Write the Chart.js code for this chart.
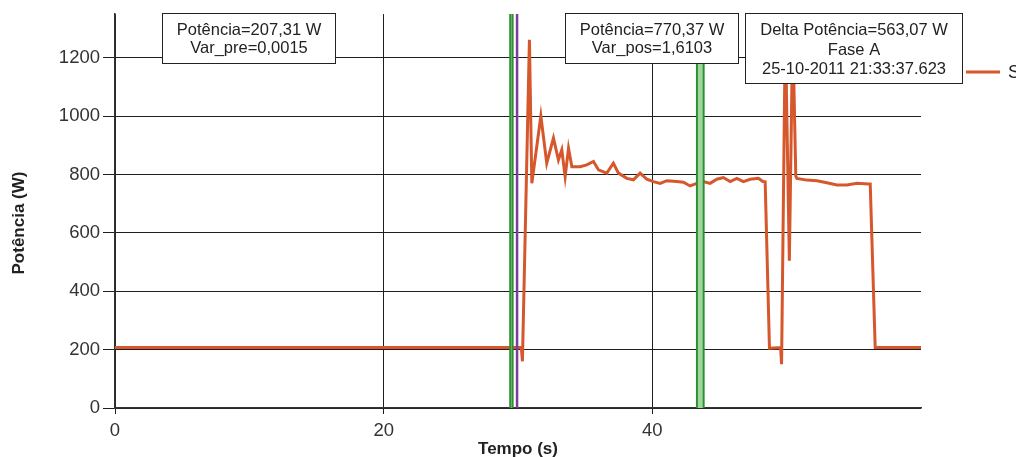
<!DOCTYPE html>
<html>
<head>
<meta charset="utf-8">
<script src="https://cdn.jsdelivr.net/npm/chart.js@4.4.0/dist/chart.umd.min.js"></script>
<style>
html, body { margin: 0; padding: 0; background: #fff; overflow: hidden; }
</style>
</head>
<body>
<canvas id="powerChart" width="1016" height="457"></canvas>
<script>
// time (s) and power (W)
const timeS = [0, 30.25, 30.33, 30.85, 31.03, 31.7, 32.14, 32.64, 33.01, 33.26,
    33.51, 33.76, 34.01, 34.62, 35.12, 35.62, 35.99, 36.61, 37.1, 37.48,
    38.1, 38.59, 39.09, 39.59, 40.08, 40.58, 41.08, 41.82, 42.32, 42.81,
    43.31, 43.8, 44.3, 44.8, 45.29, 45.79, 46.29, 46.78, 47.28, 47.9,
    48.23, 48.4, 48.72, 49.55, 49.62, 49.9, 50.2, 50.45, 50.68, 50.76,
    51.5, 52.25, 52.99, 53.74, 54.48, 55.23, 56.09, 56.22, 56.59, 60];
const powerW = [207, 207, 160, 1262, 770, 1001, 839, 925, 850, 885,
    793, 890, 827, 827, 833, 845, 816, 805, 839, 805,
    787, 782, 805, 784, 776, 770, 779, 776, 774, 761,
    770, 776, 770, 784, 790, 776, 787, 776, 784, 787,
    776, 775, 205, 207, 150, 1300, 505, 1300, 795, 787,
    781, 779, 772, 764, 764, 770, 768, 768, 207, 207];
const xTicks = [0, 20, 40];
const yTicks = [0, 200, 400, 600, 800, 1000, 1200];
// window markers (s): green pairs, purple event line
const greenMarkers = [[29.42, 29.6], [43.32, 43.82]];
const purpleMarkers = [29.93];
const seriesName = 'Série1';

const lineColor = '#d5572b';
const fontFamily = '"Liberation Sans", Arial, sans-serif';

const infoBoxes = [
    { left: 162.5, top: 13.5, width: 173, height: 50, gap: 18,
      lines: ['Potência=207,31 W', 'Var_pre=0,0015'] },
    { left: 565.5, top: 13.5, width: 173, height: 50, gap: 18,
      lines: ['Potência=770,37 W', 'Var_pos=1,6103'] },
    { left: 745.5, top: 13.5, width: 217, height: 70, gap: 19.5,
      lines: ['Delta Potência=563,07 W', 'Fase A', '25-10-2011 21:33:37.623'] }
];

const overlayPlugin = {
    id: 'overlays',
    afterDatasetsDraw(chart) {
        const { ctx, chartArea, scales: { x } } = chart;
        ctx.save();

        greenMarkers.forEach(pair => {
            const a = x.getPixelForValue(pair[0]);
            const b = x.getPixelForValue(pair[1]);
            ctx.fillStyle = '#9fd69f';
            ctx.fillRect(a, chartArea.top, b - a, chartArea.bottom - chartArea.top);
            ctx.strokeStyle = '#2f8f32';
            ctx.lineWidth = 2;
            [a, b].forEach(px => {
                ctx.beginPath();
                ctx.moveTo(px, chartArea.top);
                ctx.lineTo(px, chartArea.bottom);
                ctx.stroke();
            });
        });

        ctx.strokeStyle = '#7b3c9c';
        ctx.lineWidth = 2.5;
        purpleMarkers.forEach(v => {
            const px = x.getPixelForValue(v);
            ctx.beginPath();
            ctx.moveTo(px, chartArea.top);
            ctx.lineTo(px, chartArea.bottom);
            ctx.stroke();
        });

        // info boxes
        ctx.font = '16.5px ' + fontFamily;
        ctx.textAlign = 'center';
        ctx.textBaseline = 'middle';
        infoBoxes.forEach(box => {
            ctx.fillStyle = '#fff';
            ctx.fillRect(box.left, box.top, box.width, box.height);
            ctx.strokeStyle = '#222';
            ctx.lineWidth = 1;
            ctx.strokeRect(box.left, box.top, box.width, box.height);
            ctx.fillStyle = '#222';
            box.lines.forEach((txt, i) => {
                ctx.fillText(txt, box.left + box.width / 2, box.top + 17 + i * box.gap);
            });
        });

        // legend (cut off by the right edge, as in the original)
        ctx.strokeStyle = lineColor;
        ctx.lineWidth = 3;
        ctx.beginPath();
        ctx.moveTo(966, 72);
        ctx.lineTo(1000, 72);
        ctx.stroke();
        ctx.fillStyle = '#222';
        ctx.font = '18px ' + fontFamily;
        ctx.textAlign = 'left';
        ctx.fillText(seriesName, 1008, 73);

        // axis titles
        ctx.font = 'bold 17px ' + fontFamily;
        ctx.textAlign = 'center';
        ctx.fillText('Tempo (s)', (chartArea.left + chartArea.right) / 2, 449);
        ctx.translate(19, 223);
        ctx.rotate(-Math.PI / 2);
        ctx.fillText('Potência (W)', 0, 0);

        ctx.restore();
    }
};

const ctx = document.getElementById('powerChart');
new Chart(ctx, {
    type: 'line',
    data: {
        datasets: [{
            label: seriesName,
            data: timeS.map((t, i) => ({ x: t, y: powerW[i] })),
            borderColor: lineColor,
            borderWidth: 3,
            pointRadius: 0,
            tension: 0
        }]
    },
    options: {
        responsive: false,
        animation: false,
        layout: { padding: { top: 13, right: 95, left: 0, bottom: 0 } },
        scales: {
            x: {
                type: 'linear',
                min: 0,
                max: 60,
                afterBuildTicks: s => { s.ticks = xTicks.map(v => ({ value: v })); },
                afterFit: s => { s.height = 49; },
                grid: { color: '#1e1e1e', lineWidth: 1, tickLength: 6 },
                border: { color: '#333', width: 1.5 },
                ticks: {
                    color: '#333',
                    padding: 6,
                    maxRotation: 0,
                    font: { family: fontFamily, size: 18.5 },
                    callback: v => String(v)
                }
            },
            y: {
                min: 0,
                max: 1350,
                afterBuildTicks: s => { s.ticks = yTicks.map(v => ({ value: v })); },
                afterFit: s => { s.width = 115; },
                grid: { color: '#1e1e1e', lineWidth: 1, tickLength: 12 },
                border: { color: '#333', width: 1.5 },
                ticks: {
                    color: '#333',
                    padding: 3,
                    font: { family: fontFamily, size: 18.5 },
                    callback: v => String(v)
                }
            }
        },
        plugins: {
            legend: { display: false },
            tooltip: { enabled: false }
        }
    },
    plugins: [overlayPlugin]
});
</script>
</body>
</html>
